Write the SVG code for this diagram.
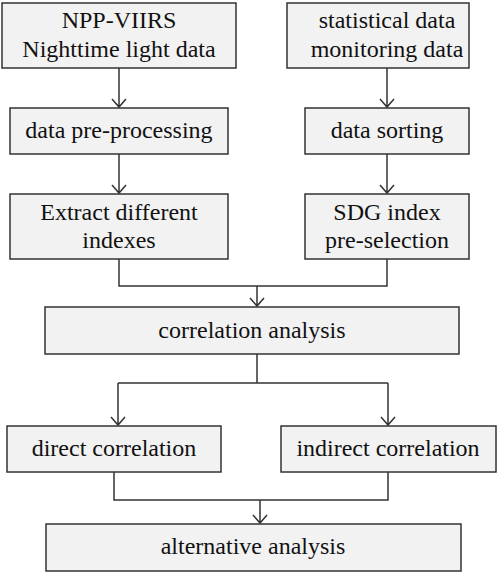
<svg xmlns="http://www.w3.org/2000/svg" width="498" height="573" viewBox="0 0 498 573">
<style>
.box{fill:#f2f2f2;stroke:#333;stroke-width:1.5}
text{font-size:24px;fill:#111;text-anchor:middle}
.c{fill:none;stroke:#333;stroke-width:1.5}
</style>
<rect width="498" height="573" fill="#fff"/>
<g id="connectors" class="c">
<path d="M119 68V107M112 99L119 107L126 99"/>
<path d="M119 154V193M112 185L119 193L126 185"/>
<path d="M387 68V107M380 99L387 107L394 99"/>
<path d="M387 154V193M380 185L387 193L394 185"/>
<path d="M119 259V286H387V259M257 286V306M250 298L257 306L264 298"/>
<path d="M257 354V383M118 383H388M118 383V425M111 417L118 425L125 417M388 383V425M381 417L388 425L395 417"/>
<path d="M114 472V500H388V472M260 500V523M253 515L260 523L267 515"/>
</g>
<g font-family="Liberation Serif, DejaVu Serif, serif">
<g id="n1"><rect class="box" x="2" y="3" width="234" height="65"/><text x="119" y="28">NPP-VIIRS</text><text x="119" y="57">Nighttime light data</text></g>
<g id="n2"><rect class="box" x="10" y="108" width="218" height="46"/><text x="119" y="138">data pre-processing</text></g>
<g id="n3"><rect class="box" x="10" y="194" width="218" height="65"/><text x="119" y="220">Extract different</text><text x="119" y="248">indexes</text></g>
<g id="n4"><rect class="box" x="287" y="3" width="182" height="65"/><text x="387" y="28">statistical data</text><text x="387" y="57">monitoring data</text></g>
<g id="n5"><rect class="box" x="305" y="108" width="164" height="46"/><text x="387" y="138">data sorting</text></g>
<g id="n6"><rect class="box" x="305" y="194" width="164" height="65"/><text x="387" y="220">SDG index</text><text x="387" y="248">pre-selection</text></g>
<g id="n7"><rect class="box" x="45" y="307" width="414" height="47"/><text x="252" y="338">correlation analysis</text></g>
<g id="n8"><rect class="box" x="7" y="426" width="214" height="46"/><text x="114" y="456">direct correlation</text></g>
<g id="n9"><rect class="box" x="281" y="426" width="215" height="46"/><text x="388" y="456">indirect correlation</text></g>
<g id="n10"><rect class="box" x="46" y="524" width="415" height="47"/><text x="253" y="554">alternative analysis</text></g>
</g>
</svg>
